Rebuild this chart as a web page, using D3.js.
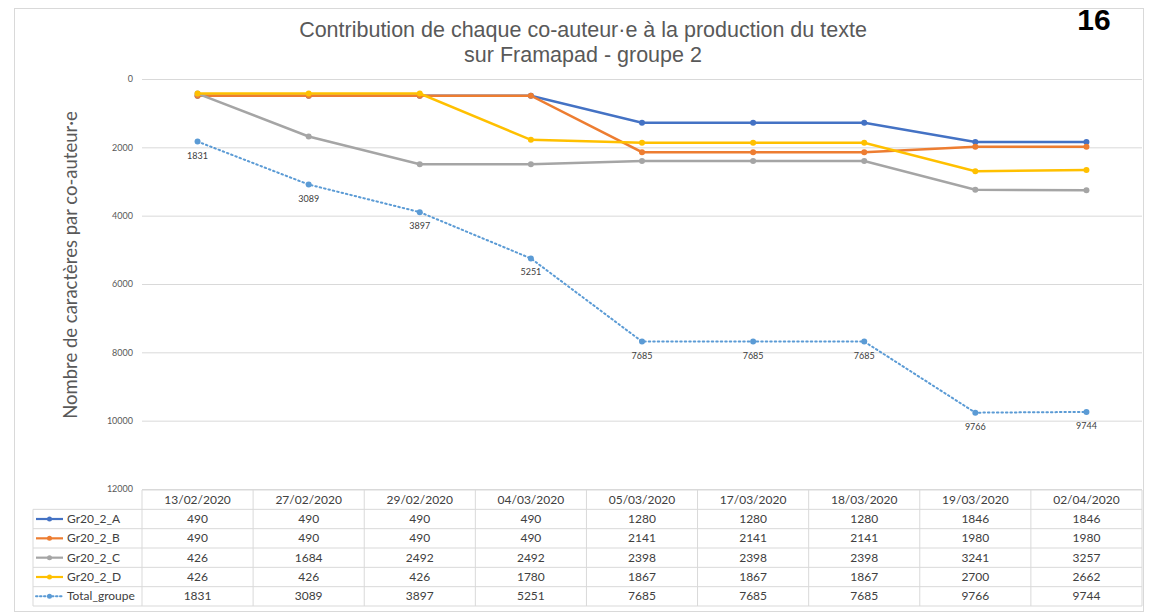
<!DOCTYPE html>
<html>
<head>
<meta charset="utf-8">
<script src="https://cdn.jsdelivr.net/npm/d3@7"></script>
<style>
  body { margin: 0; background: #fff; }
  svg { display: block; }
</style>
</head>
<body>
<div class="chart"></div>
<script>
var dates = ["13/02/2020", "27/02/2020", "29/02/2020", "04/03/2020", "05/03/2020",
             "17/03/2020", "18/03/2020", "19/03/2020", "02/04/2020"];
var seriesNames = ["Gr20_2_A", "Gr20_2_B", "Gr20_2_C", "Gr20_2_D", "Total_groupe"];
var valuesA = [490, 490, 490, 490, 1280, 1280, 1280, 1846, 1846];
var valuesB = [490, 490, 490, 490, 2141, 2141, 2141, 1980, 1980];
var valuesC = [426, 1684, 2492, 2492, 2398, 2398, 2398, 3241, 3257];
var valuesD = [426, 426, 426, 1780, 1867, 1867, 1867, 2700, 2662];
var valuesTotal = [1831, 3089, 3897, 5251, 7685, 7685, 7685, 9766, 9744];
var yTicks = [0, 2000, 4000, 6000, 8000, 10000, 12000];

var colors = ["#4472C4", "#ED7D31", "#A5A5A5", "#FFC000", "#5B9BD5"];
var series = [valuesA, valuesB, valuesC, valuesD, valuesTotal].map(function(v, i) {
  return { name: seriesNames[i], values: v, color: colors[i], dotted: i === 4 };
});

var width = 1150, height = 613;
var svg = d3.select(".chart").append("svg")
  .attr("width", width)
  .attr("height", height);

// outer frame
svg.append("rect")
  .attr("x", 14.5).attr("y", 8.5)
  .attr("width", 1129).attr("height", 603)
  .attr("fill", "none").attr("stroke", "#d9d9d9");

var x = d3.scaleBand().domain(dates).range([142, 1142]);
var y = d3.scaleLinear().domain([0, 12000]).range([79, 489]);

// title
var title = svg.append("text")
  .attr("text-anchor", "middle")
  .attr("fill", "#595959")
  .style("font-family", "'Liberation Sans', Arial, sans-serif")
  .style("font-size", "21.5px");
title.append("tspan").attr("x", 583).attr("y", 37).text("Contribution de chaque co-auteur·e à la production du texte");
title.append("tspan").attr("x", 583).attr("y", 62).text("sur Framapad - groupe 2");

svg.append("text")
  .attr("x", 1094).attr("y", 30)
  .attr("text-anchor", "middle")
  .style("font-family", "'Liberation Sans', Arial, sans-serif")
  .style("font-weight", "bold")
  .style("font-size", "30px")
  .attr("fill", "#000")
  .text("16");

// gridlines
svg.append("g")
  .attr("class", "grid")
  .attr("transform", "translate(142,0)")
  .call(d3.axisLeft(y).tickValues(yTicks).tickSize(-1000).tickFormat(""))
  .call(function(g) { g.select(".domain").remove(); })
  .call(function(g) { g.selectAll("line").attr("stroke", "#d9d9d9"); });

// y tick labels
svg.append("g")
  .attr("transform", "translate(136,0)")
  .call(d3.axisLeft(y).tickValues(yTicks).tickSize(0).tickFormat(d3.format("d")))
  .call(function(g) { g.select(".domain").remove(); })
  .call(function(g) {
    g.selectAll("text")
      .attr("fill", "#595959")
      .style("font-family", "Lato, sans-serif")
      .style("font-size", "9px");
  });

svg.append("text")
  .attr("transform", "translate(77,265) rotate(-90)")
  .attr("text-anchor", "middle")
  .attr("fill", "#595959")
  .style("font-family", "Lato, sans-serif")
  .style("font-size", "18.5px")
  .text("Nombre de caractères par co-auteur·e");

var line = d3.line()
  .x(function(d, i) { return x(dates[i]) + x.bandwidth() / 2; })
  .y(function(d) { return y(d); });

var plot = svg.append("g").attr("class", "lines");
series.forEach(function(s) {
  plot.append("path")
    .datum(s.values)
    .attr("d", line)
    .attr("fill", "none")
    .attr("stroke", s.color)
    .attr("stroke-width", s.dotted ? 2 : 2.5)
    .attr("stroke-dasharray", s.dotted ? "1.5,3" : null)
    .attr("stroke-linecap", s.dotted ? "round" : "butt");
  plot.selectAll(null)
    .data(s.values)
    .enter().append("circle")
      .attr("cx", function(d, i) { return x(dates[i]) + x.bandwidth() / 2; })
      .attr("cy", function(d) { return y(d); })
      .attr("r", 3)
      .attr("fill", s.color);
});

// data labels on total
svg.append("g").selectAll("text")
  .data(valuesTotal)
  .enter().append("text")
    .attr("x", function(d, i) { return x(dates[i]) + x.bandwidth() / 2; })
    .attr("y", function(d) { return y(d) + 17; })
    .attr("text-anchor", "middle")
    .attr("fill", "#404040")
    .style("font-family", "Lato, sans-serif")
    .style("font-size", "9px")
    .text(function(d) { return d; });

// data table
var rows = d3.scaleBand().domain(["header"].concat(seriesNames)).range([490, 606]);
var table = svg.append("g").attr("class", "table")
  .style("font-family", "Lato, sans-serif")
  .style("font-size", "12px");

var gridColor = "#d9d9d9";
// horizontal lines
table.selectAll("line.h")
  .data(rows.domain().concat(["end"]))
  .enter().append("line")
    .attr("x1", function(d, i) { return i === 0 ? 142 : 33; })
    .attr("x2", 1142)
    .attr("y1", function(d) { return d === "end" ? 606 : rows(d); })
    .attr("y2", function(d) { return d === "end" ? 606 : rows(d); })
    .attr("stroke", gridColor);

// vertical lines
table.append("line")
  .attr("x1", 33).attr("x2", 33)
  .attr("y1", rows(seriesNames[0])).attr("y2", 606)
  .attr("stroke", gridColor);
table.selectAll("line.v")
  .data(dates.concat(["end"]))
  .enter().append("line")
    .attr("x1", function(d) { return d === "end" ? 1142 : x(d); })
    .attr("x2", function(d) { return d === "end" ? 1142 : x(d); })
    .attr("y1", 490).attr("y2", 606)
    .attr("stroke", gridColor);

// header
table.selectAll("text.hdr")
  .data(dates)
  .enter().append("text")
    .attr("x", function(d) { return x(d) + x.bandwidth() / 2; })
    .attr("y", rows("header") + rows.bandwidth() / 2 + 4)
    .attr("text-anchor", "middle")
    .attr("fill", "#404040")
    .text(function(d) { return d; });

// rows
series.forEach(function(s) {
  var ry = rows(s.name) + rows.bandwidth() / 2;
  table.append("line")
    .attr("x1", 36).attr("x2", 63)
    .attr("y1", ry).attr("y2", ry)
    .attr("stroke", s.color)
    .attr("stroke-width", s.dotted ? 2 : 2.2)
    .attr("stroke-dasharray", s.dotted ? "1.5,2.5" : null)
    .attr("stroke-linecap", s.dotted ? "round" : "butt");
  table.append("circle")
    .attr("cx", 49.5).attr("cy", ry).attr("r", 2.5)
    .attr("fill", s.color);
  table.append("text")
    .attr("x", 67).attr("y", ry + 4)
    .attr("fill", "#404040")
    .text(s.name);
  table.selectAll(null)
    .data(s.values)
    .enter().append("text")
      .attr("x", function(d, i) { return x(dates[i]) + x.bandwidth() / 2; })
      .attr("y", ry + 4)
      .attr("text-anchor", "middle")
      .attr("fill", "#404040")
      .text(function(d) { return d; });
});
</script>
</body>
</html>
